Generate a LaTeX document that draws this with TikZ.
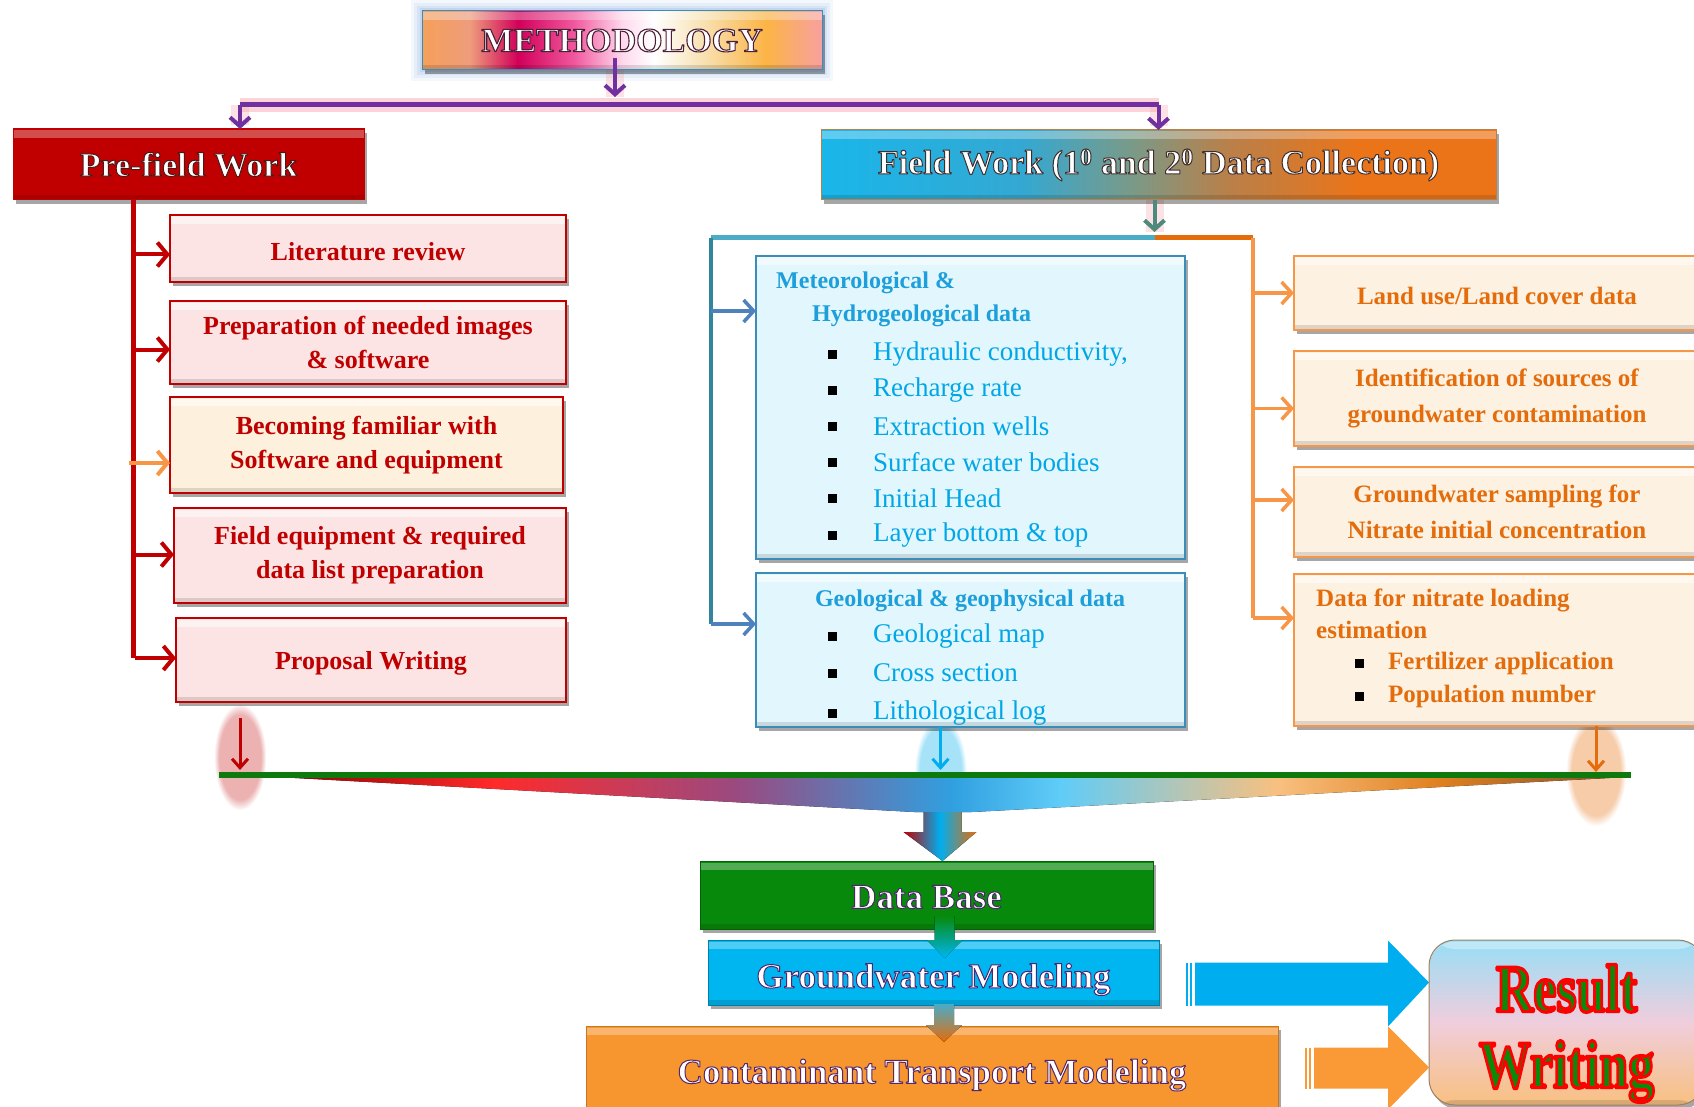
\documentclass[tikz,border=0pt]{standalone}
\usepackage{fontspec}
\usepackage{graphicx}
\setmainfont{Liberation Serif}
\usetikzlibrary{arrows.meta,shadows,calc,fadings}
\pgfdeclarelayer{background}
\pgfsetlayers{background,main}
\definecolor{dred}{HTML}{C00000}
\definecolor{pinkfill}{HTML}{FCE4E4}
\definecolor{beigefill}{HTML}{FDF0DC}
\definecolor{cyanfill}{HTML}{E2F7FD}
\definecolor{bluetext}{HTML}{00A6E6}
\definecolor{bluehead}{HTML}{1C9FDB}
\definecolor{blueborder}{HTML}{3A8DB8}
\definecolor{bluearrow}{HTML}{4F81BD}
\definecolor{tealline}{HTML}{31859C}
\definecolor{tealtop}{HTML}{4BACC6}
\definecolor{orfill}{HTML}{FDF1E2}
\definecolor{ortext}{HTML}{E46C0A}
\definecolor{orborder}{HTML}{F79646}
\definecolor{purp}{HTML}{7030A0}
\definecolor{glowpink}{HTML}{F4A0A8}
\definecolor{glowblue}{HTML}{6FA0DC}
\definecolor{dbgreen}{HTML}{078A0B}
\definecolor{gwcyan}{HTML}{00B6F0}
\definecolor{ctmorange}{HTML}{F7952E}
\definecolor{linegreen}{HTML}{0E7A0E}
\definecolor{bigblue}{HTML}{00AEEF}
\definecolor{bigorange}{HTML}{F99A36}
\definecolor{resgreen}{HTML}{0A8A0A}
\definecolor{greyteal}{HTML}{4E8A7C}
\definecolor{mA1}{HTML}{F6A05A}
\definecolor{mA2}{HTML}{EE9C7C}
\definecolor{mA3}{HTML}{D2005A}
\definecolor{mA4}{HTML}{F0589E}
\definecolor{mA5}{HTML}{FFD8EC}
\definecolor{mA6}{HTML}{F8E2B4}
\definecolor{mA7}{HTML}{FBB445}
\definecolor{mA8}{HTML}{F8A0A0}
\definecolor{fA1}{HTML}{19B6EA}
\definecolor{fA2}{HTML}{34A8D2}
\definecolor{fA3}{HTML}{7A9A88}
\definecolor{fA4}{HTML}{B8804A}
\definecolor{fA5}{HTML}{EC7418}
\definecolor{fu1}{HTML}{8A0000}
\definecolor{fu2}{HTML}{FF2A2A}
\definecolor{fu3}{HTML}{9A4A80}
\definecolor{fu4}{HTML}{30A0E0}
\definecolor{fu5}{HTML}{60CCF8}
\definecolor{fu6}{HTML}{F8C080}
\definecolor{fu7}{HTML}{E08020}
\definecolor{fu8}{HTML}{805030}
\pgfdeclarehorizontalshading{methshade}{100bp}{color(0bp)=(mA1); color(25bp)=(mA1); color(31bp)=(mA2); color(37bp)=(mA3); color(44bp)=(mA4); color(50bp)=(mA5); color(54bp)=(white); color(60bp)=(mA6); color(68bp)=(mA7); color(75bp)=(mA8); color(100bp)=(mA8)}
\pgfdeclarehorizontalshading{fieldshade}{100bp}{color(0bp)=(fA1); color(25bp)=(fA1); color(40bp)=(fA2); color(48bp)=(fA3); color(55bp)=(fA4); color(65bp)=(fA5); color(75bp)=(fA5); color(100bp)=(fA5)}
\pgfdeclarehorizontalshading{funnelshade}{100bp}{color(0bp)=(fu1); color(25bp)=(fu1); color(33bp)=(fu2); color(42bp)=(fu3); color(50bp)=(fu4); color(54bp)=(fu5); color(62bp)=(fu6); color(68bp)=(fu7); color(75bp)=(fu8); color(100bp)=(fu8)}
% outlined text: #1 stroke rgb, #2 stroke width, #3 fill colour, #4 text
\newcommand{\outl}[4]{{\color{#3}\special{pdf:literal direct #1 RG #2 w 1 j 2 Tr}#4\special{pdf:literal direct 0 Tr}}}
\newcommand{\lowr}[2]{\raisebox{-#1}[\height][\depth]{#2}}
\tikzset{
  box/.style={line width=2pt, inner sep=0pt, outer sep=0pt, align=center,
    drop shadow={shadow xshift=3pt,shadow yshift=-4pt,opacity=0.35,fill=black}},
  hilite/.style={path picture={\fill[white,opacity=#1] ([yshift=-1.5pt]path picture bounding box.north west) rectangle ([yshift=-9pt]path picture bounding box.north east);
     \fill[black,opacity=0.12] ([yshift=5pt]path picture bounding box.south west) rectangle (path picture bounding box.south east);}},
  redbox/.style={box, draw=dred, fill=pinkfill, text=dred, font=\bfseries\fontsize{26}{34}\selectfont, hilite=0.55},
  bluebox/.style={box, draw=blueborder, fill=cyanfill, hilite=0.55},
  orbox/.style={box, draw=orborder, fill=orfill, text=ortext, font=\bfseries\fontsize{25}{36}\selectfont, hilite=0.55},
  titlebox/.style={box, line width=1pt, font=\bfseries\fontsize{34}{40}\selectfont, text=white, hilite=0.3},
  bigtitle/.style={box, line width=1pt, font=\bfseries\fontsize{35}{40}\selectfont, text=white, hilite=0.3},
  bul/.style={fill=black, minimum size=9pt, inner sep=0pt},
  btxt/.style={anchor=west, inner sep=0pt, text=bluetext, font=\fontsize{27}{30}\selectfont},
  bhead/.style={anchor=west, inner sep=0pt, text=bluehead, font=\bfseries\fontsize{24}{30}\selectfont},
  otxt/.style={anchor=west, inner sep=0pt, text=ortext, font=\bfseries\fontsize{25}{30}\selectfont},
  redarr/.style={draw=dred, line width=4pt, -{Straight Barb[length=10pt,width=24pt]}},
  orarr/.style={draw=orborder, line width=3.5pt, -{Straight Barb[length=10pt,width=22pt]}},
  bluearr/.style={draw=bluearrow, line width=3.5pt, -{Straight Barb[length=10pt,width=22pt]}},
  purparr/.style={draw=purp, line width=4pt, -{Straight Barb[length=9pt,width=20pt]}},
  downarr/.style={line width=3pt, -{Straight Barb[length=9pt,width=16pt]}},
  glowline/.style={draw=glowpink, line width=14pt, opacity=0.45},
}
\begin{document}
\begin{tikzpicture}[x=1pt,y=-1pt]
\useasboundingbox (0,0) rectangle (1694,1107);

% ---------- title boxes ----------
\node[titlebox, draw=blueborder, shade, shading=methshade, minimum width=400pt, minimum height=59pt] (meth) at (622,40.5)
  {\outl{0.3 0.12 0.22}{1.1}{white}{METHODOLOGY}};
\begin{pgfonlayer}{background}
  \foreach \w/\o in {22/0.08,16/0.1,10/0.14,5/0.2}
    \draw[glowblue, line width=\w pt, opacity=\o] (meth.north west) rectangle (meth.south east);
\end{pgfonlayer}

\node[titlebox, draw=dred, fill=dred, minimum width=351pt, minimum height=71pt] (pre) at (188.5,164.5)
  {\outl{0.3 0.1 0.1}{1.0}{white}{Pre-field Work}};
\node[titlebox, draw=fA4, shade, shading=fieldshade, minimum width=675pt, minimum height=70pt] (field) at (1158.5,165)
  {\outl{0.25 0.18 0.18}{1.0}{white}{Field Work (1\textsuperscript{0} and 2\textsuperscript{0} Data Collection)}};

% ---------- left column ----------
\node[redbox, minimum width=396pt, minimum height=67pt] (lit) at (368,248.5) {\lowr{3pt}{Literature review}};
\node[redbox, minimum width=396pt, minimum height=83pt] (prep) at (368,342.5) {Preparation of needed images\\ \& software};
\node[redbox, fill=beigefill, minimum width=393pt, minimum height=96pt] (becom) at (366.5,445) {Becoming familiar with\\ Software and equipment};
\node[redbox, minimum width=392pt, minimum height=95pt] (fequip) at (370,555.5) {Field equipment \& required\\ data list preparation};
\node[redbox, minimum width=390pt, minimum height=84pt] (prop) at (371,660) {\lowr{3pt}{Proposal Writing}};

% ---------- middle column ----------
\node[bluebox, minimum width=429pt, minimum height=303pt] (met) at (970.5,407.5) {};
\node[bhead] (mh1) at (776,283) {Meteorological \&};
\node[bhead] (mh2) at (812,316) {Hydrogeological data};
\foreach \y/\t [count=\i] in {354/{Hydraulic conductivity,},390/{Recharge rate},426/{Extraction wells},462/{Surface water bodies},498/{Initial Head},535/{Layer bottom \& top}}{
  \node[bul] (mb\i) at (832,\y) {};
  \node[btxt] (mt\i) at (873,\y) {\t};
}
\node[bluebox, minimum width=429pt, minimum height=154pt] (geo) at (970.5,650) {};
\begin{scope}
  \clip ([yshift=-2pt]geo.north west) rectangle ([yshift=2pt]geo.south east);
  \node[bhead, anchor=center] (gh) at (970,601) {Geological \& geophysical data};
  \foreach \y/\t [count=\i] in {636/{Geological map},673/{Cross section},713/{Lithological log}}{
    \node[bul] (gb\i) at (832,\y) {};
    \node[btxt] (gt\i) at (873,\y) {\t};
  }
\end{scope}

% ---------- right column ----------
\node[orbox, minimum width=406pt, minimum height=74pt] (land) at (1497,293) {\lowr{3pt}{Land use/Land cover data}};
\node[orbox, minimum width=406pt, minimum height=95pt] (ident) at (1497,398.5) {Identification of sources of\\ groundwater contamination};
\node[orbox, minimum width=406pt, minimum height=90pt] (samp) at (1497,512) {Groundwater sampling for\\ Nitrate initial concentration};
\node[orbox, minimum width=406pt, minimum height=152pt] (nit) at (1497,650) {};
\node[otxt] (nt1) at (1316,600) {Data for nitrate loading};
\node[otxt] (nt2) at (1316,630) {estimation};
\node[bul] (nb1) at (1359,663) {};
\node[otxt] (nt3) at (1388,663) {Fertilizer application};
\node[bul] (nb2) at (1359,696) {};
\node[otxt] (nt4) at (1388,696) {Population number};

% ---------- lower boxes ----------
\node[bigtitle, draw=dbgreen!70!black, fill=dbgreen, minimum width=453pt, minimum height=68pt] (db) at (926.5,895)
  {\lowr{2pt}{\outl{0.3 0.15 0.4}{1.0}{white}{Data Base}}};
\node[bigtitle, draw=gwcyan!70!black, fill=gwcyan, minimum width=451pt, minimum height=65pt] (gw) at (933.5,972.5)
  {\lowr{7pt}{\outl{0.3 0.15 0.45}{1.0}{white}{Groundwater Modeling}}};
\node[bigtitle, draw=ctmorange!80!black, fill=ctmorange, minimum width=692pt, minimum height=94pt] (ctm) at (932,1073)
  {\lowr{2pt}{\outl{0.35 0.15 0.4}{1.0}{white}{Contaminant Transport Modeling}}};
\node[box, draw=brown!50!gray, line width=1pt, rounded corners=26pt, top color=fA1!45, bottom color=fu6, middle color=blue!10!pink!60!white,
  minimum width=275pt, minimum height=165pt, font=\bfseries\fontsize{52}{76}\selectfont, hilite=0.35] (res) at (1566.5,1022.5)
  {\lowr{11pt}{\scalebox{1}[1.3]{\outl{1 0 0}{2.6}{resgreen}{Result}}}\\ \lowr{11pt}{\scalebox{1}[1.3]{\outl{1 0 0}{2.6}{resgreen}{Writing}}}};

% ---------- purple connectors ----------
\coordinate (pL) at (240,105);
\coordinate (pR) at (field.north |- pL);
\coordinate (mS) at ([xshift=-7pt,yshift=12pt]meth.south);
\coordinate (mE) at ($(mS |- pL)+(0,-8)$);
\begin{pgfonlayer}{background}
  \draw[glowline] (pL) -- (pR);
  \draw[glowline, line width=18pt, opacity=0.3] (mS) -- (mE);
  \draw[glowline, line width=18pt, opacity=0.3] (pL) -- ($(pL |- pre.north)+(0,-4)$);
  \draw[glowline, line width=18pt, opacity=0.3] (pR) -- ($(field.north)+(0,-4)$);
\end{pgfonlayer}
\draw[purparr] (mS) -- (mE);
\draw[purp, line width=5pt] (pL) -- (pR);
\draw[purparr] (pL) -- (pL |- pre.north);
\draw[purparr] (pR) -- (field.north);

% ---------- left connectors ----------
\coordinate (rv) at (133,200);
\draw[dred, line width=5pt] (rv) -- ($(rv |- prop.west)+(0,-2)$);
\draw[redarr] (rv |- lit.west) ++(2,6) -- ($(lit.west)+(0,6)$);
\draw[redarr] (rv |- prep.west) ++(2,7) -- ($(prep.west)+(0,7)$);
\draw[draw=orborder, line width=4pt, -{Straight Barb[length=10pt,width=24pt]}] ($(rv |- becom.west)+(-4,18)$) -- ($(becom.west)+(0,18)$);
\draw[redarr] (rv |- fequip.west) ++(2,-1) -- ($(fequip.west)+(0,-1)$);
\draw[redarr] (rv |- prop.west) ++(2,-2) -- ($(prop.west)+(0,-2)$);

% ---------- field work branches ----------
\coordinate (fS) at ([xshift=-4pt]field.south);
\coordinate (fB) at ($(fS)+(0,38)$);
\coordinate (bL) at (711,238);
\coordinate (oR) at (1253,238);
\coordinate (metA) at ([yshift=-55pt]met.north west);
\coordinate (geoA) at ([yshift=-51pt]geo.north west);
\coordinate (nitA) at ([yshift=-44pt]nit.north west);
\begin{pgfonlayer}{background}
  \draw[glowline, line width=18pt, opacity=0.3] (fS) -- ($(fB)+(0,-6)$);
\end{pgfonlayer}
\draw[greyteal, line width=4pt, -{Straight Barb[length=9pt,width=20pt]}] (fS) -- ($(fB)+(0,-6)$);
\draw[tealtop, line width=5pt] (fB) -- (bL);
\draw[tealline, line width=4pt] (bL) -- (bL |- geoA);
\draw[ortext, line width=5pt] (fB) -- (oR);
\draw[orborder, line width=3.5pt] (oR) -- (oR |- nitA);
\draw[bluearr] (bL |- metA) -- (metA);
\draw[bluearr] (bL |- geoA) -- (geoA);
\draw[orarr] (oR |- land.west) -- (land.west);
\draw[orarr] ($(oR |- ident.west)+(0,10)$) -- ($(ident.west)+(0,10)$);
\draw[orarr] ($(oR |- samp.west)+(0,-12)$) -- ($(samp.west)+(0,-12)$);
\draw[orarr] (oR |- nitA) -- (nitA);

% ---------- merging to data base ----------
\coordinate (gL) at (219,775);
\coordinate (gR) at (1631,775);
\coordinate (rA) at ($(prop.south)+(-131,16)$);
\coordinate (bA) at ($(geo.south)+(-30,0)$);
\coordinate (oA) at ($(nit.south)+(99,0)$);
\begin{pgfonlayer}{background}
  \fill[dred, opacity=0.3, path fading=circle with fuzzy edge 20 percent] ($(rA)+(-26,-14)$) rectangle ($(rA)+(26,92)$);
  \fill[bigblue, opacity=0.35, path fading=circle with fuzzy edge 20 percent] ($(bA)+(-26,-10)$) rectangle ($(bA)+(26,100)$);
  \fill[ortext, opacity=0.35, path fading=circle with fuzzy edge 20 percent] ($(oA)+(-30,-10)$) rectangle ($(oA)+(30,100)$);
\end{pgfonlayer}
\fill[shade, shading=funnelshade] ($(gL)+(58,2)$) -- ($(gR)+(-3,2)$) -- (972,812) -- (914,812) -- cycle;
\draw[linegreen, line width=6pt] (gL) -- (gR);
\draw[downarr, dred] (rA) -- ($(rA |- gL)+(0,-5)$);
\draw[downarr, bigblue] (bA) -- ($(bA |- gL)+(0,-5)$);
\draw[downarr, ortext] (oA) -- ($(oA |- gL)+(0,-3)$);
\coordinate (dbT) at ($(db.north)+(16,0)$);
\fill[left color=dred, right color=ortext, middle color=bigblue]
  ($(dbT)+(-19,-49)$) -- ($(dbT)+(19,-49)$) -- ($(dbT)+(19,-29)$) -- ($(dbT)+(34,-29)$) -- (dbT) -- ($(dbT)+(-39,-29)$) -- ($(dbT)+(-19,-29)$) -- cycle;
\coordinate (gwT) at ($(gw.north)+(11,18)$);
\fill[top color=dbgreen, bottom color=gwcyan]
  ($(gwT)+(-10,-42)$) -- ($(gwT)+(10,-42)$) -- ($(gwT)+(10,-18)$) -- ($(gwT)+(18,-18)$) -- (gwT) -- ($(gwT)+(-18,-18)$) -- ($(gwT)+(-10,-18)$) -- cycle;
\coordinate (ctT) at ($(ctm.north)+(12,16)$);
\fill[top color=tealtop, bottom color=ortext]
  ($(ctT)+(-10,-38)$) -- ($(ctT)+(10,-38)$) -- ($(ctT)+(10,-17)$) -- ($(ctT)+(18,-17)$) -- (ctT) -- ($(ctT)+(-18,-17)$) -- ($(ctT)+(-10,-17)$) -- cycle;

% ---------- block arrows to result ----------
\coordinate (bT) at ($(res.west)+(0,-40)$);
\fill[bigblue] ($(bT)+(-243,-20)$) rectangle ($(bT)+(-241,23)$);
\fill[bigblue] ($(bT)+(-239,-20)$) rectangle ($(bT)+(-237,23)$);
\fill[bigblue] ($(bT)+(-234,-20)$) -- ($(bT)+(-41,-20)$) -- ($(bT)+(-41,-42)$) -- (bT) -- ($(bT)+(-41,44)$) -- ($(bT)+(-41,23)$) -- ($(bT)+(-234,23)$) -- cycle;
\coordinate (oT) at ($(res.west)+(0,45)$);
\fill[bigorange] ($(oT)+(-124,-20)$) rectangle ($(oT)+(-122,21)$);
\fill[bigorange] ($(oT)+(-120,-20)$) rectangle ($(oT)+(-118,21)$);
\fill[bigorange] ($(oT)+(-115,-20)$) -- ($(oT)+(-41,-20)$) -- ($(oT)+(-41,-41)$) -- (oT) -- ($(oT)+(-41,42)$) -- ($(oT)+(-41,21)$) -- ($(oT)+(-115,21)$) -- cycle;
\end{tikzpicture}
\end{document}
